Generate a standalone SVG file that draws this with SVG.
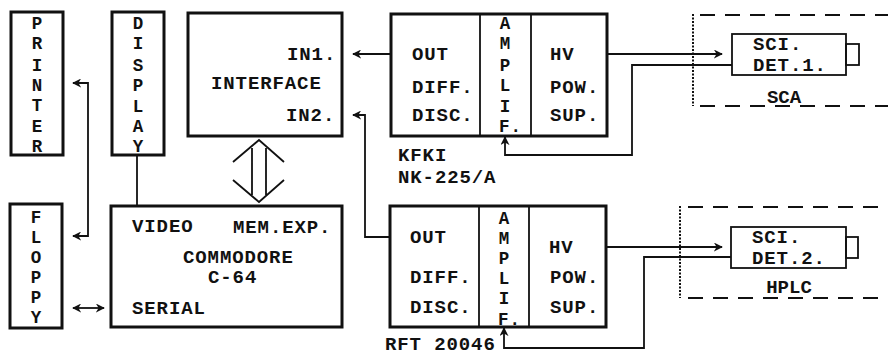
<svg xmlns="http://www.w3.org/2000/svg" width="888" height="355" viewBox="0 0 888 355">
<style>
.box{fill:none;stroke:#111;stroke-width:3}
.thin{fill:none;stroke:#111;stroke-width:1.8}
.ln{fill:none;stroke:#111;stroke-width:1.8}
.dash{fill:none;stroke:#111;stroke-width:2.2;stroke-dasharray:15 10}
.dot{fill:none;stroke:#111;stroke-width:2;stroke-dasharray:2 1.5}
text{font-family:"Liberation Mono","Courier New",monospace;font-weight:bold;font-size:19px;letter-spacing:0.9px;fill:#111}
.m{text-anchor:middle;letter-spacing:0}
.v{font-size:17.5px}
</style>
<defs>
<marker id="ah" viewBox="0 0 10 10" refX="9" refY="5" markerWidth="9" markerHeight="9" markerUnits="userSpaceOnUse" orient="auto-start-reverse">
<path d="M0,0 L10,5 L0,10 L3,5 Z" fill="#111"/>
</marker>
</defs>
<rect width="888" height="355" fill="#fff"/>

<g id="printer">
<rect class="box" x="11" y="12" width="52" height="143"/>
<text class="m v" x="37" y="29">P</text><text class="m v" x="37" y="49">R</text><text class="m v" x="37" y="71">I</text><text class="m v" x="37" y="91">N</text><text class="m v" x="37" y="111">T</text><text class="m v" x="37" y="132">E</text><text class="m v" x="37" y="152">R</text>
</g>
<g id="display">
<rect class="box" x="112" y="12" width="52" height="143"/>
<text class="m v" x="138" y="29">D</text><text class="m v" x="138" y="49">I</text><text class="m v" x="138" y="71">S</text><text class="m v" x="138" y="91">P</text><text class="m v" x="138" y="112">L</text><text class="m v" x="138" y="132">A</text><text class="m v" x="138" y="152">Y</text>
</g>
<g id="floppy">
<rect class="box" x="10" y="204" width="52" height="124"/>
<text class="m v" x="36" y="223">F</text><text class="m v" x="36" y="243">L</text><text class="m v" x="36" y="263">O</text><text class="m v" x="36" y="283">P</text><text class="m v" x="36" y="303">P</text><text class="m v" x="36" y="323">Y</text>
</g>
<g id="interface">
<rect class="box" x="188" y="13" width="154" height="123"/>
<text x="287" y="60">IN1.</text>
<text x="211" y="89">INTERFACE</text>
<text x="286" y="121">IN2.</text>
</g>
<g id="commodore">
<rect class="box" x="111" y="206" width="231" height="121"/>
<text x="132" y="232">VIDEO</text>
<text x="233" y="233">MEM.EXP.</text>
<text x="183" y="263">COMMODORE</text>
<text x="208" y="283">C-64</text>
<text x="132" y="314">SERIAL</text>
</g>
<g id="amp1">
<rect class="box" x="391" y="14" width="216" height="122"/>
<line class="thin" x1="480" y1="14" x2="480" y2="136"/>
<line class="thin" x1="531" y1="14" x2="531" y2="136"/>
<text x="412" y="60">OUT</text><text x="412" y="93">DIFF.</text><text x="412" y="121">DISC.</text>
<text class="m v" x="505" y="29">A</text><text class="m v" x="505" y="49">M</text><text class="m v" x="505" y="71">P</text><text class="m v" x="505" y="91">L</text><text class="m v" x="505" y="112">I</text><text class="v" x="499" y="132">F.</text>
<text x="550" y="60">HV</text><text x="550" y="93">POW.</text><text x="550" y="121">SUP.</text>
<text x="398" y="161">KFKI</text>
<text x="398" y="183">NK-225/A</text>
</g>
<g id="amp2">
<rect class="box" x="390" y="206" width="216" height="121"/>
<line class="thin" x1="479" y1="206" x2="479" y2="327"/>
<line class="thin" x1="529" y1="206" x2="529" y2="327"/>
<text x="410" y="243">OUT</text><text x="410" y="283">DIFF.</text><text x="410" y="313">DISC.</text>
<text class="m v" x="504" y="224">A</text><text class="m v" x="504" y="244">M</text><text class="m v" x="504" y="264">P</text><text class="m v" x="504" y="284">L</text><text class="m v" x="504" y="304">I</text><text class="v" x="498" y="325">F.</text>
<text x="549" y="253">HV</text><text x="550" y="283">POW.</text><text x="550" y="313">SUP.</text>
<text x="385" y="350">RFT 20046</text>
</g>
<g id="det1">
<line class="dash" x1="700" y1="15" x2="888" y2="15"/>
<line class="dash" x1="700" y1="106" x2="888" y2="106"/>
<line class="dot" x1="693" y1="14" x2="693" y2="106"/>
<rect class="thin" x="732" y="34" width="114" height="41"/>
<rect class="thin" x="846" y="44" width="13" height="21"/>
<text x="753" y="50">SCI.</text>
<text x="753" y="71">DET.1.</text>
<text class="m" x="784" y="103">SCA</text>
</g>
<g id="det2">
<line class="dash" x1="688" y1="207" x2="888" y2="207"/>
<line class="dash" x1="688" y1="298" x2="888" y2="298"/>
<line class="dot" x1="680" y1="206" x2="680" y2="298"/>
<rect class="thin" x="731" y="227" width="115" height="41"/>
<rect class="thin" x="846" y="237" width="12" height="21"/>
<text x="752" y="243">SCI.</text>
<text x="752" y="264">DET.2.</text>
<text class="m" x="789" y="293">HPLC</text>
</g>
<g id="connectors">
<path class="ln" d="M137,155 V206"/>
<path class="ln" d="M73,83 H88 V236 H73" marker-start="url(#ah)" marker-end="url(#ah)"/>
<path class="ln" d="M73,308 H104" marker-start="url(#ah)" marker-end="url(#ah)"/>
<path class="ln" d="M233,162 L259,140 L284,162 M252,148 V195 M266,148 V195 M233,180 L259,202 L284,180"/>
<path class="ln" d="M391,54 H353" marker-end="url(#ah)"/>
<path class="ln" d="M390,237 H365 V115 H353" marker-end="url(#ah)"/>
<path class="ln" d="M607,54 H722" marker-end="url(#ah)"/>
<path class="ln" d="M732,65 H632 V155 H505 V137" marker-end="url(#ah)"/>
<path class="ln" d="M606,247 H722" marker-end="url(#ah)"/>
<path class="ln" d="M731,257 H644 V348 H504 V328" marker-end="url(#ah)"/>
</g>
</svg>
